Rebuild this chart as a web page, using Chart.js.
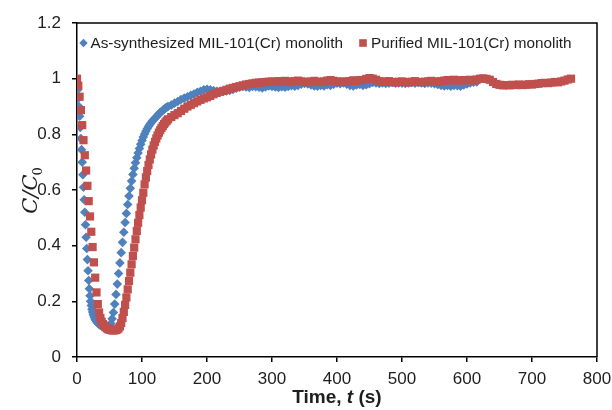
<!DOCTYPE html>
<html>
<head>
<meta charset="utf-8">
<script src="https://cdn.jsdelivr.net/npm/chart.js@4.4.1/dist/chart.umd.min.js"></script>
<style>
html, body { margin: 0; padding: 0; background: #ffffff; }
#wrap { width: 612px; height: 410px; }
</style>
</head>
<body>
<div id="wrap"><canvas id="chart" width="612" height="410"></canvas></div>
<script>
// Breakthrough of the two monoliths: normalised concentration C/C0 against time (s)
const seriesNames = ['As-synthesized MIL-101(Cr) monolith', 'Purified MIL-101(Cr) monolith'];
const xTicks = [0, 100, 200, 300, 400, 500, 600, 700, 800];
const yTicks = [0, 0.2, 0.4, 0.6, 0.8, 1, 1.2];

// As-synthesized monolith
const asSynthTime = [
  0, 1, 2, 3, 4, 5, 6, 7, 8, 9, 10, 11, 12, 13, 14, 15, 16, 17, 18, 19,
  20, 21, 22, 23, 24, 25, 26, 27, 28, 29, 30, 31, 32, 33, 34, 35, 36, 37, 38, 39, 40,
  42, 44, 46, 48, 50, 52, 54, 56, 58, 60, 62, 64, 66, 68, 70, 72, 74, 76, 78, 80,
  82, 84, 86, 88, 90, 92, 94, 96, 98, 100, 102, 104, 106, 108, 110, 112, 114, 116, 118, 120,
  122, 124, 126, 128, 130, 132, 134, 136, 138, 140,
  145, 150, 155, 160, 165, 170, 175, 180, 185, 190, 195, 200, 205, 210, 215, 220, 225, 230, 235, 240,
  245, 250, 255, 260, 265, 270, 275, 280, 285, 290, 295, 300, 305, 310, 315, 320, 325, 330, 335, 340,
  345, 350, 355, 360, 365, 370, 375, 380, 385, 390, 395, 400, 405, 410, 415, 420, 425, 430, 435, 440,
  445, 450, 455, 460, 465, 470, 475, 480, 485, 490, 495, 500, 505, 510, 515, 520, 525, 530, 535, 540,
  545, 550, 555, 560, 565, 570, 575, 580, 585, 590, 595, 600, 605, 610, 615
];
const asSynthC = [
  0.985, 0.96, 0.93, 0.9, 0.865, 0.825, 0.785, 0.745, 0.7, 0.655,
  0.61, 0.565, 0.52, 0.475, 0.43, 0.39, 0.35, 0.31, 0.275, 0.245,
  0.22, 0.2, 0.185, 0.172, 0.162, 0.154, 0.147, 0.141, 0.136, 0.132,
  0.128, 0.125, 0.122, 0.12, 0.118, 0.116, 0.114, 0.113, 0.112, 0.111,
  0.11,
  0.109, 0.108, 0.107, 0.108, 0.11, 0.12, 0.137, 0.16, 0.19, 0.225,
  0.262, 0.3, 0.338, 0.375, 0.412, 0.448, 0.483, 0.516, 0.548, 0.578,
  0.606, 0.632, 0.656, 0.678, 0.698, 0.716, 0.733, 0.749, 0.764, 0.778,
  0.79, 0.801, 0.811, 0.82, 0.828, 0.835, 0.842, 0.848, 0.853, 0.858,
  0.863, 0.868, 0.873, 0.878, 0.882, 0.886, 0.89, 0.894, 0.897, 0.90,
  0.905, 0.912, 0.918, 0.925, 0.93, 0.935, 0.94, 0.945, 0.951, 0.955,
  0.96, 0.962, 0.96, 0.957, 0.955, 0.953, 0.954, 0.956, 0.958, 0.961,
  0.966, 0.969, 0.972, 0.97, 0.968, 0.972, 0.971, 0.969, 0.967, 0.97,
  0.974, 0.972, 0.97, 0.968, 0.971, 0.969, 0.972, 0.975, 0.973, 0.976,
  0.98, 0.983, 0.981, 0.977, 0.974, 0.973, 0.976, 0.974, 0.978, 0.976,
  0.98, 0.984, 0.982, 0.985, 0.98, 0.976, 0.974, 0.977, 0.979, 0.976,
  0.978, 0.982, 0.986, 0.985, 0.983, 0.985, 0.983, 0.984, 0.986, 0.984,
  0.985, 0.984, 0.983, 0.985, 0.986, 0.984, 0.986, 0.985, 0.983, 0.985,
  0.984, 0.982, 0.979, 0.976, 0.974, 0.976, 0.973, 0.976, 0.975, 0.973,
  0.977, 0.981, 0.985, 0.987, 0.988
];

// Purified monolith
const purifiedTime = [
  0, 2, 4, 6, 8, 10, 12, 14, 16, 18, 20, 22, 24, 26, 28, 30, 32, 34, 36, 38,
  40, 42, 44, 46, 48, 50, 52, 54, 56, 58, 60, 62, 64, 66, 68, 70, 72, 74, 76, 78,
  80, 82, 84, 86, 88, 90, 92, 94, 96, 98, 100, 102, 104, 106, 108, 110, 112, 114, 116, 118,
  120, 122, 124, 126, 128, 130, 132, 134, 136, 138, 140,
  145, 150, 155, 160, 165, 170, 175, 180, 185, 190, 195,
  200, 205, 210, 215, 220, 225, 230, 235, 240, 245, 250, 255, 260, 265, 270, 275, 280, 285, 290, 295,
  300, 305, 310, 315, 320, 325, 330, 335, 340, 345, 350, 355, 360, 365, 370, 375, 380, 385, 390, 395,
  400, 405, 410, 415, 420, 425, 430, 435, 440, 445, 450, 455, 460, 465, 470, 475, 480, 485, 490, 495,
  500, 505, 510, 515, 520, 525, 530, 535, 540, 545, 550, 555, 560, 565, 570, 575, 580, 585, 590, 595,
  600, 605, 610, 615, 620, 625, 630, 635, 640, 645, 650, 655, 660, 665, 670, 675, 680, 685, 690, 695,
  700, 705, 710, 715, 720, 725, 730, 735, 740, 745, 750, 755, 760
];
const purifiedC = [
  1.00, 0.975, 0.935, 0.887, 0.833, 0.779, 0.725, 0.67, 0.615, 0.56,
  0.505, 0.45, 0.395, 0.34, 0.285, 0.232, 0.19, 0.16, 0.14, 0.127,
  0.118, 0.112, 0.107, 0.103, 0.1, 0.098, 0.097, 0.096, 0.096, 0.096,
  0.097, 0.099, 0.103, 0.11, 0.122, 0.14, 0.162, 0.187, 0.214, 0.243,
  0.273, 0.303, 0.333, 0.363, 0.393, 0.423, 0.453, 0.482, 0.51, 0.537,
  0.563, 0.59, 0.62, 0.645, 0.668, 0.69, 0.71, 0.728, 0.745, 0.76,
  0.773, 0.785, 0.796, 0.806, 0.815, 0.823, 0.83, 0.837, 0.843, 0.849,
  0.854,
  0.862, 0.869, 0.876, 0.884, 0.892, 0.9, 0.906, 0.912, 0.918, 0.924, 0.929,
  0.933, 0.938, 0.944, 0.949, 0.953, 0.956, 0.96, 0.964, 0.967, 0.97,
  0.973, 0.976, 0.979, 0.981, 0.983, 0.985, 0.986, 0.987, 0.988, 0.989,
  0.99, 0.988, 0.991, 0.989, 0.992, 0.99, 0.988, 0.991, 0.993, 0.99,
  0.989, 0.987, 0.99, 0.992, 0.989, 0.988, 0.99, 0.993, 0.995, 0.992,
  0.99, 0.988, 0.99, 0.989, 0.991, 0.994, 0.992, 0.995, 0.995, 0.999,
  1.002, 1.0, 0.996, 0.991, 0.988, 0.99, 0.991, 0.988, 0.986, 0.989,
  0.99, 0.988, 0.986, 0.989, 0.991, 0.988, 0.987, 0.989, 0.99, 0.992,
  0.99, 0.988, 0.991, 0.993, 0.995, 0.994, 0.996, 0.993, 0.994, 0.995,
  0.994, 0.996, 0.993, 0.997, 1.0, 1.001, 0.999, 0.996, 0.988, 0.981,
  0.978, 0.976, 0.977, 0.976, 0.978, 0.977, 0.979, 0.977, 0.978, 0.98,
  0.979, 0.981, 0.982, 0.984, 0.985, 0.984, 0.986, 0.988, 0.987, 0.99,
  0.993, 0.997, 1.0
];

const blue = '#4F81BD';
const red = '#C0504D';
const textColor = '#1e1e1e';
const sansFamily = '"Liberation Sans", Arial, Helvetica, sans-serif';

function toPoints(xs, ys) {
  return xs.map((x, i) => ({ x: x, y: ys[i] }));
}

// Top and right sides of the plot frame
const framePlugin = {
  id: 'plotFrame',
  beforeDatasetsDraw(chart) {
    const { ctx, chartArea: a } = chart;
    ctx.save();
    ctx.strokeStyle = '#000';
    ctx.lineWidth = 1.5;
    ctx.beginPath();
    ctx.moveTo(a.left, a.top);
    ctx.lineTo(a.right, a.top);
    ctx.lineTo(a.right, a.bottom);
    ctx.stroke();
    ctx.restore();
  }
};

// Legend row inside the plot, plus the two axis titles
const labelsPlugin = {
  id: 'labels',
  afterDraw(chart) {
    const { ctx, chartArea: a } = chart;
    ctx.save();

    // legend
    const ly = a.top + 20;
    ctx.font = '15.3px ' + sansFamily;
    ctx.textBaseline = 'middle';
    ctx.textAlign = 'left';
    const bx = a.left + 6.5;
    ctx.fillStyle = blue;
    ctx.beginPath();
    ctx.moveTo(bx - 4.2, ly); ctx.lineTo(bx, ly - 4.2); ctx.lineTo(bx + 4.2, ly); ctx.lineTo(bx, ly + 4.2);
    ctx.closePath();
    ctx.fill();
    ctx.fillStyle = textColor;
    const t1 = bx + 7;
    ctx.fillText(seriesNames[0], t1, ly + 1);
    const w1 = ctx.measureText(seriesNames[0]).width;
    const rx = t1 + w1 + 20;
    ctx.fillStyle = red;
    ctx.fillRect(rx - 3.8, ly - 3.8, 7.6, 7.6);
    ctx.fillStyle = textColor;
    ctx.fillText(seriesNames[1], rx + 8, ly + 1);

    // x-axis title: Time, t (s)
    const parts = [
      { s: 'Time, ', f: 'bold 19px ' + sansFamily },
      { s: 't', f: 'italic bold 19px ' + sansFamily },
      { s: ' (s)', f: 'bold 19px ' + sansFamily }
    ];
    let total = 0;
    parts.forEach(p => { ctx.font = p.f; p.w = ctx.measureText(p.s).width; total += p.w; });
    let px = (a.left + a.right) / 2 - total / 2;
    ctx.textBaseline = 'alphabetic';
    ctx.fillStyle = textColor;
    parts.forEach(p => { ctx.font = p.f; ctx.fillText(p.s, px, 403); px += p.w; });

    // y-axis title: C/C0 with subscript zero
    ctx.translate(32, 190);
    ctx.rotate(-Math.PI / 2);
    const main = 'C/C';
    const mainFont = 'italic 21px "DejaVu Serif", "Liberation Serif", serif';
    const subFont = '13px "DejaVu Serif", "Liberation Serif", serif';
    ctx.font = mainFont;
    const mw = ctx.measureText(main).width;
    ctx.font = subFont;
    const sw = ctx.measureText('0').width;
    const start = -(mw + sw) / 2;
    ctx.font = mainFont;
    ctx.fillText(main, start, 5);
    ctx.font = subFont;
    ctx.fillText('0', start + mw - 1, 10);

    ctx.restore();
  }
};

new Chart(document.getElementById('chart'), {
  type: 'scatter',
  data: {
    datasets: [
      {
        label: seriesNames[0],
        data: toPoints(asSynthTime, asSynthC),
        pointStyle: 'rectRot',
        pointRadius: 4.8,
        pointBorderWidth: 0,
        backgroundColor: blue,
        borderColor: blue,
        order: 1
      },
      {
        label: seriesNames[1],
        data: toPoints(purifiedTime, purifiedC),
        pointStyle: 'rect',
        pointRadius: 5.8,
        pointBorderWidth: 0,
        backgroundColor: red,
        borderColor: red,
        order: 0
      }
    ]
  },
  options: {
    responsive: false,
    animation: false,
    events: [],
    layout: { padding: { top: 23, right: 15, left: 0, bottom: 0 } },
    plugins: {
      legend: { display: false },
      tooltip: { enabled: false }
    },
    scales: {
      x: {
        type: 'linear',
        position: 'bottom',
        min: 0,
        max: 800,
        afterFit(scale) { scale.height = 53; scale.paddingLeft = 0; scale.paddingRight = 0; },
        afterBuildTicks(scale) { scale.ticks = xTicks.map(v => ({ value: v })); },
        grid: { drawOnChartArea: false, drawTicks: true, tickLength: 5, color: '#000', lineWidth: 1.5 },
        border: { color: '#000', width: 1.5 },
        ticks: {
          color: textColor,
          font: { family: sansFamily, size: 17 },
          padding: 7,
          maxRotation: 0,
          autoSkip: false,
          callback: v => String(v)
        }
      },
      y: {
        type: 'linear',
        position: 'left',
        min: 0,
        max: 1.2,
        afterFit(scale) { scale.width = 77; scale.paddingTop = 0; scale.paddingBottom = 0; },
        afterBuildTicks(scale) { scale.ticks = yTicks.map(v => ({ value: v })); },
        grid: { drawOnChartArea: false, drawTicks: true, tickLength: 5, color: '#000', lineWidth: 1.5 },
        border: { color: '#000', width: 1.5 },
        ticks: {
          color: textColor,
          font: { family: sansFamily, size: 17 },
          padding: 11,
          autoSkip: false,
          callback: v => String(v)
        }
      }
    }
  },
  plugins: [framePlugin, labelsPlugin]
});
</script>
</body>
</html>
